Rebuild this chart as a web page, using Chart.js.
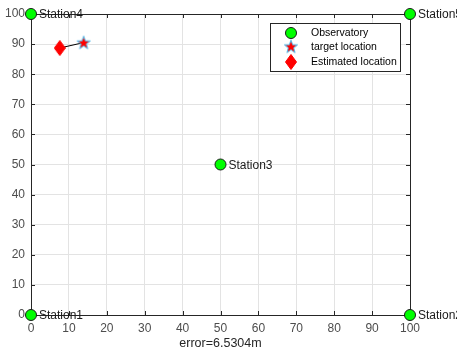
<!DOCTYPE html>
<html>
<head>
<meta charset="utf-8">
<script src="https://cdn.jsdelivr.net/npm/chart.js@4/dist/chart.umd.min.js"></script>
<style>
  html, body { margin: 0; padding: 0; background: #fff; }
  #wrap { width: 457px; height: 351px; }
</style>
</head>
<body>
<div id="wrap"><canvas id="chart" width="457" height="351"></canvas></div>
<script>
// data
var stationNames = ['Station1', 'Station2', 'Station3', 'Station4', 'Station5'];
var stationX = [0, 100, 50, 0, 100];
var stationY = [0, 0, 50, 100, 100];
var targetX = [13.9];
var targetY = [90.5];
var estX = [7.6];
var estY = [88.7];
var xTicks = [0, 10, 20, 30, 40, 50, 60, 70, 80, 90, 100];
var yTicks = [0, 10, 20, 30, 40, 50, 60, 70, 80, 90, 100];
var xLabel = 'error=6.5304m';
var legendLabels = ['Observatory', 'target location', 'Estimated location'];

var FONT = '"Liberation Sans", Arial, sans-serif';
var AXIS_COLOR = '#262626';
var TICK_COLOR = '#4d4d4d';

function makeStar() {
    var c = document.createElement('canvas');
    c.width = 16; c.height = 16;
    var g = c.getContext('2d');
    var cx = 8, cy = 8.5, ro = 7, ri = 2.8;
    g.beginPath();
    for (var i = 0; i < 10; i++) {
        var r = i % 2 ? ri : ro;
        var a = -Math.PI / 2 + i * Math.PI / 5;
        var px = cx + r * Math.cos(a), py = cy + r * Math.sin(a);
        if (i == 0) g.moveTo(px, py); else g.lineTo(px, py);
    }
    g.closePath();
    g.fillStyle = '#ff0000';
    g.fill();
    g.strokeStyle = '#4DBEEE';
    g.lineWidth = 1;
    g.stroke();
    return c;
}

function makeDiamond() {
    var c = document.createElement('canvas');
    c.width = 12; c.height = 16;
    var g = c.getContext('2d');
    g.beginPath();
    g.moveTo(6, 0.5); g.lineTo(11.5, 8); g.lineTo(6, 15.5); g.lineTo(0.5, 8);
    g.closePath();
    g.fillStyle = '#ff0000';
    g.fill();
    g.strokeStyle = '#ff0000';
    g.stroke();
    return c;
}

var starImg = makeStar();
var diamondImg = makeDiamond();

function pts(xs, ys) {
    return xs.map(function (x, i) { return { x: x, y: ys[i] }; });
}

var boxPlugin = {
    id: 'box',
    beforeDatasetsDraw: function (chart) {
        var ctx = chart.ctx, a = chart.chartArea;
        var xs = chart.scales.x, ys = chart.scales.y;
        ctx.save();
        ctx.strokeStyle = AXIS_COLOR;
        ctx.lineWidth = 1;
        ctx.strokeRect(Math.round(a.left) + 0.5, Math.round(a.top) + 0.5,
            Math.round(a.right - a.left), Math.round(a.bottom - a.top));
        ctx.beginPath();
        xTicks.forEach(function (t) {
            var px = Math.round(xs.getPixelForValue(t)) + 0.5;
            ctx.moveTo(px, a.bottom); ctx.lineTo(px, a.bottom - 4);
            ctx.moveTo(px, a.top); ctx.lineTo(px, a.top + 4);
        });
        yTicks.forEach(function (t) {
            var py = Math.round(ys.getPixelForValue(t)) + 0.5;
            ctx.moveTo(a.left, py); ctx.lineTo(a.left + 4, py);
            ctx.moveTo(a.right, py); ctx.lineTo(a.right - 4, py);
        });
        ctx.stroke();
        ctx.restore();
    },
    afterDatasetsDraw: function (chart) {
        var ctx = chart.ctx;
        var xs = chart.scales.x, ys = chart.scales.y;
        ctx.save();
        // station names
        ctx.font = '12px ' + FONT;
        ctx.fillStyle = '#1a1a1a';
        ctx.textBaseline = 'middle';
        ctx.textAlign = 'left';
        stationNames.forEach(function (n, i) {
            ctx.fillText(n, xs.getPixelForValue(stationX[i]) + 8, ys.getPixelForValue(stationY[i]) + 1);
        });
        // legend box
        var lx = 270.5, ly = 23.5, lw = 130, lh = 48;
        ctx.fillStyle = '#fff';
        ctx.fillRect(lx, ly, lw, lh);
        ctx.strokeStyle = AXIS_COLOR;
        ctx.lineWidth = 1;
        ctx.strokeRect(lx, ly, lw, lh);
        var rows = [33, 47, 62];
        ctx.beginPath();
        ctx.arc(291, rows[0], 5.5, 0, Math.PI * 2);
        ctx.fillStyle = '#00ff00';
        ctx.fill();
        ctx.strokeStyle = '#1a1a1a';
        ctx.stroke();
        ctx.drawImage(starImg, 291 - 8, rows[1] - 8.5);
        ctx.drawImage(diamondImg, 291 - 6, rows[2] - 8);
        ctx.fillStyle = '#000';
        ctx.font = '10.5px ' + FONT;
        legendLabels.forEach(function (t, i) {
            ctx.fillText(t, 311, rows[i] + 0.5);
        });
        ctx.restore();
    }
};

var tickFont = { family: FONT, size: 12 };

new Chart(document.getElementById('chart'), {
    type: 'scatter',
    data: {
        datasets: [
            {
                type: 'line',
                data: pts(estX.concat(targetX), estY.concat(targetY)),
                borderColor: '#000',
                borderWidth: 1,
                pointRadius: 0,
                fill: false,
                order: 3
            },
            {
                data: pts(stationX, stationY),
                pointStyle: 'circle',
                pointRadius: 5.5,
                backgroundColor: '#00ff00',
                borderColor: '#1a1a1a',
                borderWidth: 1,
                clip: false,
                order: 2
            },
            {
                data: pts(targetX, targetY),
                pointStyle: starImg,
                clip: false,
                order: 1
            },
            {
                data: pts(estX, estY),
                pointStyle: diamondImg,
                clip: false,
                order: 2
            }
        ]
    },
    options: {
        responsive: false,
        animation: false,
        events: [],
        layout: { padding: { top: 14, right: 47, left: 0, bottom: 0 } },
        plugins: { legend: { display: false }, tooltip: { enabled: false } },
        scales: {
            x: {
                type: 'linear',
                min: 0, max: 100,
                afterBuildTicks: function (s) { s.ticks = xTicks.map(function (v) { return { value: v }; }); },
                afterFit: function (s) { s.height = 36; },
                grid: { color: '#e3e3e3', drawTicks: false },
                border: { display: false },
                ticks: { color: TICK_COLOR, font: tickFont, padding: 6, maxRotation: 0 },
                title: { display: true, text: xLabel, color: AXIS_COLOR, font: { family: FONT, size: 12.5 }, padding: { top: 0, bottom: 0 } }
            },
            y: {
                type: 'linear',
                min: 0, max: 100,
                afterBuildTicks: function (s) { s.ticks = yTicks.map(function (v) { return { value: v }; }); },
                afterFit: function (s) { s.width = 31; },
                grid: { color: '#e3e3e3', drawTicks: false },
                border: { display: false },
                ticks: { color: TICK_COLOR, font: tickFont, padding: 6 }
            }
        }
    },
    plugins: [boxPlugin]
});
</script>
</body>
</html>
